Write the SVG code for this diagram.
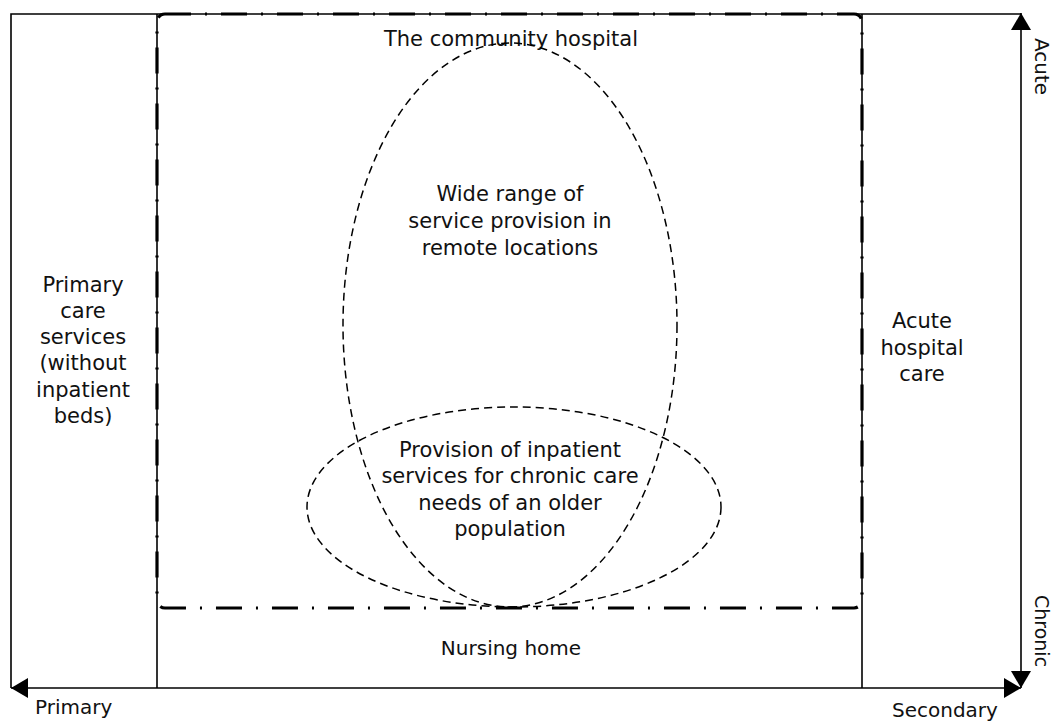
<svg xmlns="http://www.w3.org/2000/svg" width="1058" height="722" viewBox="0 0 1058 722">
<style>
.t{font-family:"DejaVu Sans","Open Sans",sans-serif;font-size:21px;fill:#111;text-anchor:middle}
.s{font-family:"DejaVu Sans","Open Sans",sans-serif;font-size:20px;fill:#111}
.ln{stroke:#000;stroke-width:1.6;fill:none}
.el{stroke:#000;stroke-width:1.5;fill:none;stroke-dasharray:8 5}
.dd{stroke:#000;stroke-width:3.2;fill:none;stroke-dasharray:26 14 2 14}
</style>
<defs>
<marker id="ah" viewBox="0 0 17 20" refX="17" refY="10" markerWidth="17" markerHeight="20" markerUnits="userSpaceOnUse" orient="auto-start-reverse">
<path d="M0,0 L17,10 L0,20 Z" fill="#000"/>
</marker>
</defs>
<rect width="1058" height="722" fill="#fff"/>
<g id="frame">
<path class="ln" d="M11,688 L11,14 L1021,14"/>
<line class="ln" x1="157" y1="14" x2="157" y2="688"/>
<line class="ln" x1="862" y1="14" x2="862" y2="688"/>
</g>
<g id="connectors">
<line class="ln" x1="11" y1="688" x2="1021" y2="688" marker-start="url(#ah)" marker-end="url(#ah)"/>
<line class="ln" x1="1021" y1="688" x2="1021" y2="13" marker-start="url(#ah)" marker-end="url(#ah)"/>
</g>
<g id="community-hospital">
<rect class="dd" x="157" y="14" width="705" height="594" rx="8"/>
<text class="t" x="511" y="46">The community hospital</text>
</g>
<g id="wide-range">
<ellipse class="el" cx="510" cy="325" rx="167" ry="282"/>
<text class="t" x="510" y="201">Wide range of</text>
<text class="t" x="510" y="228">service provision in</text>
<text class="t" x="510" y="255">remote locations</text>
</g>
<g id="inpatient">
<ellipse class="el" cx="514" cy="507" rx="207" ry="100"/>
<text class="t" x="510" y="457">Provision of inpatient</text>
<text class="t" x="510" y="483">services for chronic care</text>
<text class="t" x="510" y="510">needs of an older</text>
<text class="t" x="510" y="536">population</text>
</g>
<g id="primary-care">
<text class="t" x="83" y="292">Primary</text>
<text class="t" x="83" y="318">care</text>
<text class="t" x="83" y="344">services</text>
<text class="t" x="83" y="370">(without</text>
<text class="t" x="83" y="397">inpatient</text>
<text class="t" x="83" y="423">beds)</text>
</g>
<g id="acute-hospital">
<text class="t" x="922" y="328">Acute</text>
<text class="t" x="922" y="355">hospital</text>
<text class="t" x="922" y="381">care</text>
</g>
<g id="nursing-home">
<text class="t" x="511" y="655" style="font-size:20px">Nursing home</text>
</g>
<g id="axis-labels">
<text class="s" x="35" y="714">Primary</text>
<text class="s" x="892" y="717">Secondary</text>
<text class="s" transform="translate(1035,38) rotate(90)">Acute</text>
<text class="s" transform="translate(1035,595) rotate(90)" style="font-size:19px">Chronic</text>
</g>
</svg>
